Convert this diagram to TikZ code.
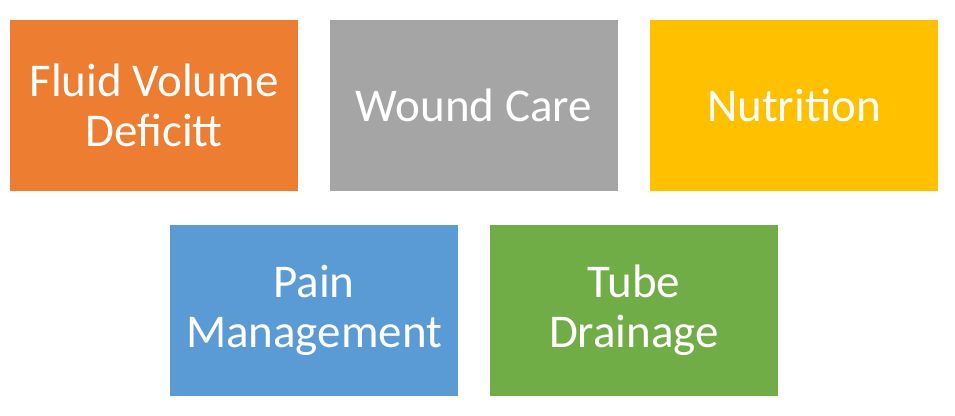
\documentclass[tikz,border=0pt]{standalone}
\usepackage{fontspec}
\setmainfont{Carlito}
\definecolor{corange}{HTML}{ED7D31}
\definecolor{cgray}{HTML}{A5A5A5}
\definecolor{cyellow}{HTML}{FFC000}
\definecolor{cblue}{HTML}{5B9BD5}
\definecolor{cgreen}{HTML}{70AD47}
\begin{document}
\begin{tikzpicture}[x=1pt,y=-1pt,
  tile/.style={minimum width=288pt,minimum height=171pt,inner sep=0pt,outer sep=0pt,
    text=white,align=center,font=\fontsize{47}{50}\selectfont,anchor=north west}]
\useasboundingbox[fill=white] (0,0) rectangle (955,415);
\node[tile,fill=corange] (a) at (10,20) {Fluid Volume\\Deficitt};
\node[tile,fill=cgray] (b) at (330,20) {Wound Care};
\node[tile,fill=cyellow] (c) at (650,20) {Nutrition};
\node[tile,fill=cblue] (d) at (170,225) {Pain\\Management};
\node[tile,fill=cgreen] (e) at (490,225) {Tube\\Drainage};
\end{tikzpicture}
\end{document}
